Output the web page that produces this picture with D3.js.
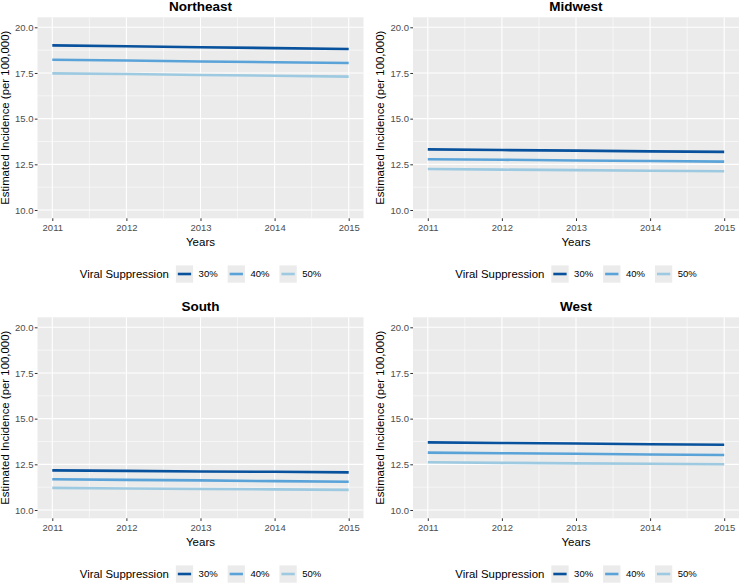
<!DOCTYPE html>
<html>
<head>
<meta charset="utf-8">
<script src="https://cdn.jsdelivr.net/npm/d3@7"></script>
<style>
  body { margin: 0; background: #fff; }
  svg { display: block; font-family: "Liberation Sans", Arial, sans-serif; }
</style>
</head>
<body>
<svg id="chart" width="740" height="583"></svg>
<script>
const years = [2011, 2012, 2013, 2014, 2015];
const regions = ["Northeast", "Midwest", "South", "West"];
const suppressionLevels = ["30%", "40%", "50%"];
const lineColors = ["#08519c", "#5aa3d9", "#9ecae1"];
const yTicks = [10.0, 12.5, 15.0, 17.5, 20.0];
const yMinor = [11.25, 13.75, 16.25, 18.75];
const xMinor = [2011.5, 2012.5, 2013.5, 2014.5];

const northeast30 = [19.01, 18.96, 18.91, 18.86, 18.81];
const northeast40 = [18.22, 18.18, 18.13, 18.09, 18.05];
const northeast50 = [17.48, 17.44, 17.39, 17.35, 17.30];
const midwest30 = [13.32, 13.28, 13.25, 13.21, 13.18];
const midwest40 = [12.78, 12.75, 12.71, 12.68, 12.65];
const midwest50 = [12.24, 12.21, 12.18, 12.15, 12.12];
const south30 = [12.17, 12.14, 12.11, 12.09, 12.06];
const south40 = [11.68, 11.65, 11.62, 11.58, 11.55];
const south50 = [11.21, 11.18, 11.15, 11.13, 11.10];
const west30 = [13.70, 13.67, 13.64, 13.60, 13.57];
const west40 = [13.14, 13.11, 13.08, 13.04, 13.01];
const west50 = [12.61, 12.58, 12.55, 12.53, 12.50];

const seriesByRegion = {
  "Northeast": [northeast30, northeast40, northeast50],
  "Midwest": [midwest30, midwest40, midwest50],
  "South": [south30, south40, south50],
  "West": [west30, west40, west50]
};

const svg = d3.select("#chart");
const panelW = 326;
const panelTop = 17.3, panelBottom = 218.3;
const cols = [37.5, 413];
const rowOffset = [0, 300];

regions.forEach((region, i) => {
  const left = cols[i % 2];
  const dy = rowOffset[Math.floor(i / 2)];
  const g = svg.append("g").attr("transform", `translate(0,${dy})`);

  const x = d3.scaleLinear().domain([2011, 2015]).range([left + 14.8, left + panelW - 14.8]);
  const y = d3.scaleLinear().domain([10, 20]).range([210, 27.3]);

  g.append("rect").attr("x", left).attr("y", panelTop)
    .attr("width", panelW).attr("height", panelBottom - panelTop)
    .attr("fill", "#ebebeb");

  g.selectAll(".ymin").data(yMinor).enter().append("line")
    .attr("x1", left).attr("x2", left + panelW)
    .attr("y1", d => y(d)).attr("y2", d => y(d))
    .attr("stroke", "#fff").attr("stroke-width", 0.55);
  g.selectAll(".xmin").data(xMinor).enter().append("line")
    .attr("y1", panelTop).attr("y2", panelBottom)
    .attr("x1", d => x(d)).attr("x2", d => x(d))
    .attr("stroke", "#fff").attr("stroke-width", 0.55);
  g.selectAll(".ymaj").data(yTicks).enter().append("line")
    .attr("x1", left).attr("x2", left + panelW)
    .attr("y1", d => y(d)).attr("y2", d => y(d))
    .attr("stroke", "#fff").attr("stroke-width", 1.1);
  g.selectAll(".xmaj").data(years).enter().append("line")
    .attr("y1", panelTop).attr("y2", panelBottom)
    .attr("x1", d => x(d)).attr("x2", d => x(d))
    .attr("stroke", "#fff").attr("stroke-width", 1.1);

  const xAxis = d3.axisBottom(x).tickValues(years).tickFormat(d3.format("d"))
    .tickSize(2.7).tickPadding(3.5);
  const xg = g.append("g").attr("transform", `translate(0,${panelBottom})`).call(xAxis);
  const yAxis = d3.axisLeft(y).tickValues(yTicks).tickFormat(d3.format(".1f"))
    .tickSize(2.7).tickPadding(1.3);
  const yg = g.append("g").attr("transform", `translate(${left},0)`).call(yAxis);
  [xg, yg].forEach(a => {
    a.select(".domain").remove();
    a.selectAll(".tick line").attr("stroke", "#333").attr("stroke-width", 1);
    a.selectAll(".tick text").attr("fill", "#4d4d4d")
      .style("font-size", "9.5px").style("font-family", "Liberation Sans, Arial, sans-serif");
  });

  const line = d3.line().x((d, k) => x(years[k])).y(d => y(d));
  seriesByRegion[region].forEach((vals, s) => {
    g.append("path").datum(vals).attr("d", line)
      .attr("fill", "none").attr("stroke", lineColors[s])
      .attr("stroke-width", 2.6);
  });

  const cx = left + panelW / 2;
  g.append("text").attr("x", cx).attr("y", 10.5)
    .attr("text-anchor", "middle").style("font-size", "13.5px")
    .style("font-weight", "bold").attr("fill", "#000").text(region);
  g.append("text").attr("x", cx).attr("y", 245.5)
    .attr("text-anchor", "middle").style("font-size", "11.5px")
    .attr("fill", "#000").text("Years");
  g.append("text")
    .attr("transform", `translate(${left - 29},${(panelTop + panelBottom) / 2}) rotate(-90)`)
    .attr("text-anchor", "middle").style("font-size", "11.4px")
    .attr("fill", "#000").text("Estimated Incidence (per 100,000)");

  const lg = g.append("g");
  const ly = 274;
  const title = lg.append("text").attr("x", 0).attr("y", ly + 4)
    .style("font-size", "11.4px").attr("fill", "#000").text("Viral Suppression");
  let pos = title.node().getComputedTextLength() + 7;
  suppressionLevels.forEach((lab, s) => {
    lg.append("rect").attr("x", pos).attr("y", ly - 8.6)
      .attr("width", 17.3).attr("height", 17.3).attr("fill", "#ebebeb");
    lg.append("line").attr("x1", pos + 2).attr("x2", pos + 15.3)
      .attr("y1", ly).attr("y2", ly)
      .attr("stroke", lineColors[s]).attr("stroke-width", 2.6);
    pos += 17.3 + 5.5;
    const t = lg.append("text").attr("x", pos).attr("y", ly + 3.4)
      .style("font-size", "9.5px").attr("fill", "#000").text(lab);
    pos += t.node().getComputedTextLength() + (s < 2 ? 10 : 0);
  });
  lg.attr("transform", `translate(${cx - pos / 2},0)`);
});
</script>
</body>
</html>
